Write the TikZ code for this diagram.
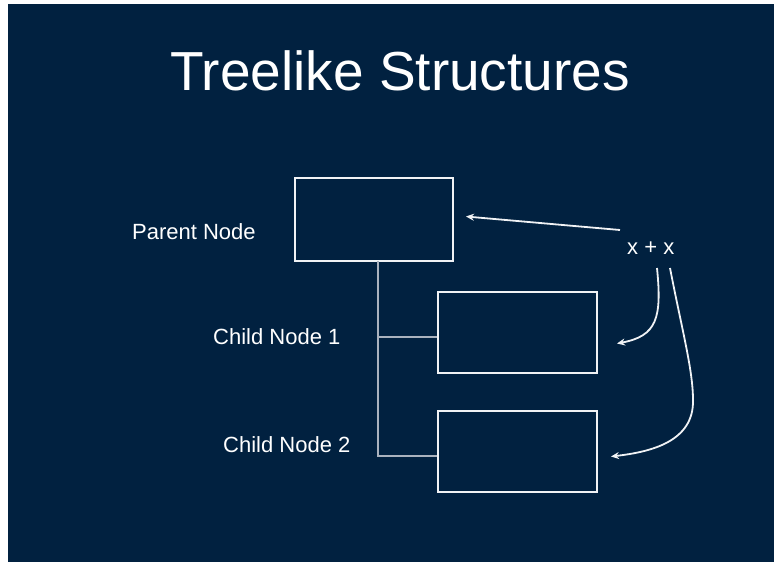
\documentclass[tikz,border=0pt]{standalone}
\usepackage{fontspec}
\setmainfont{Liberation Sans}
\usetikzlibrary{arrows.meta,calc}
\definecolor{navy}{RGB}{1,33,64}
\definecolor{boxline}{RGB}{240,242,245}
\definecolor{treegray}{RGB}{170,178,190}
\begin{document}
\begin{tikzpicture}[x=1pt,y=-1pt,
  boxnode/.style={draw=boxline,line width=1.8pt,rectangle,inner sep=0pt},
  lbl/.style={text=white,inner sep=0pt,font=\fontsize{22}{26}\selectfont},
  treeline/.style={draw=treegray,line width=1.8pt},
  arr/.style={draw=boxline,line width=1.8pt,-{Stealth[length=8pt,width=7pt]}}]
\useasboundingbox (0,0) rectangle (774,562);
\fill[white] (0,0) rectangle (774,562);
\fill[navy] (8,4) rectangle (774,562);
% title
\node[text=white,inner sep=0pt,anchor=base,font=\fontsize{55}{60}\selectfont] (title) at (400,90) {Treelike Structures};
% boxes
\node[boxnode,minimum width=158pt,minimum height=83pt] (parent) at (374,219.5) {};
\node[boxnode,minimum width=159pt,minimum height=81pt] (c1) at (517.5,332.5) {};
\node[boxnode,minimum width=159pt,minimum height=81pt] (c2) at (517.5,451.5) {};
% labels
\node[lbl,anchor=base west] (lp) at (132,239.5) {Parent Node};
\node[lbl,anchor=base west] (l1) at (213,344) {Child Node 1};
\node[lbl,anchor=base west] (l2) at (223,452.5) {Child Node 2};
\node[lbl,anchor=base west] (xx) at (627,254) {x + x};
% tree connectors
\coordinate (trunk) at (378,261);
\coordinate (j1) at ($(c1.west)+(0,4.5)$);
\coordinate (j2) at ($(c2.west)+(0,4.5)$);
\draw[treeline] (trunk) |- (j2);
\draw[treeline] (trunk |- j1) -- (j1);
% arrows
\coordinate (a1s) at (620,230);
\coordinate (a1e) at (466,216.5);
\coordinate (a2s) at (657,268);
\coordinate (a2e) at (617,343.5);
\coordinate (a3s) at (670,268);
\coordinate (a3m) at (693,400);
\coordinate (a3e) at (611,456.5);
\draw[arr] (a1s) -- (a1e);
\draw[arr] (a2s) .. controls (662,318) and (657,336) .. (a2e);
\draw[arr] (a3s) .. controls (682,330) and (693,370) .. (a3m) .. controls (694,442) and (650,452) .. (a3e);
\end{tikzpicture}
\end{document}
